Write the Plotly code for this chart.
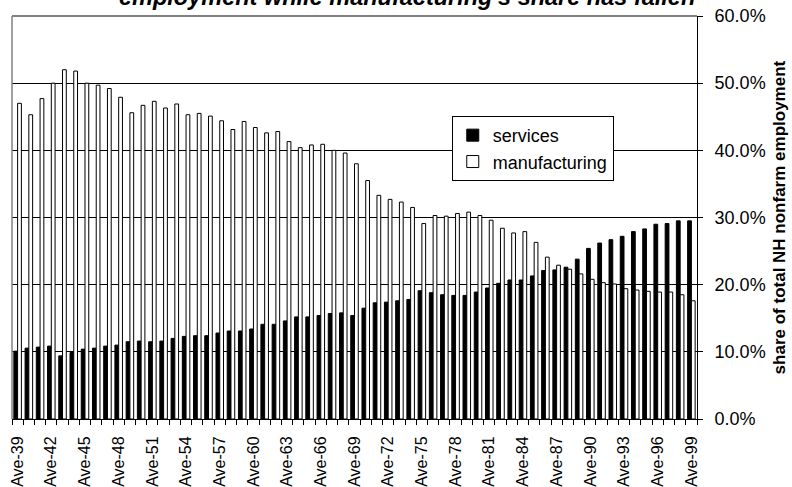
import plotly.graph_objects as go

years = [1939, 1940, 1941, 1942, 1943, 1944, 1945, 1946, 1947, 1948,
         1949, 1950, 1951, 1952, 1953, 1954, 1955, 1956, 1957, 1958,
         1959, 1960, 1961, 1962, 1963, 1964, 1965, 1966, 1967, 1968,
         1969, 1970, 1971, 1972, 1973, 1974, 1975, 1976, 1977, 1978,
         1979, 1980, 1981, 1982, 1983, 1984, 1985, 1986, 1987, 1988,
         1989, 1990, 1991, 1992, 1993, 1994, 1995, 1996, 1997, 1998,
         1999]

services = [10.1, 10.55, 10.7, 10.85, 9.4, 9.9, 10.4, 10.55, 10.85, 11.0,
            11.5, 11.6, 11.5, 11.6, 12.0, 12.3, 12.4, 12.4, 12.8, 13.1,
            13.1, 13.4, 14.1, 14.1, 14.6, 15.2, 15.2, 15.4, 15.7, 15.8,
            15.4, 16.5, 17.3, 17.4, 17.6, 17.8, 19.1, 18.8, 18.5, 18.4,
            18.4, 18.9, 19.5, 20.2, 20.7, 20.7, 21.3, 22.1, 22.2, 22.6,
            23.8, 25.4, 26.2, 26.7, 27.2, 27.9, 28.3, 29.0, 29.1, 29.5,
            29.5]

manufacturing = [47.0, 45.3, 47.7, 50.0, 52.0, 51.8, 50.0, 49.7, 49.2, 47.9,
                 45.6, 46.7, 47.3, 46.3, 46.9, 45.3, 45.5, 45.1, 44.4, 43.1,
                 44.3, 43.4, 42.6, 42.8, 41.3, 40.4, 40.8, 40.9, 40.0, 39.6,
                 38.0, 35.5, 33.3, 32.7, 32.3, 31.5, 29.1, 30.3, 30.2, 30.6,
                 30.8, 30.3, 29.6, 28.4, 27.7, 27.9, 26.3, 24.1, 22.9, 22.3,
                 21.6, 20.8, 20.3, 20.1, 19.4, 19.2, 19.0, 18.9, 18.9, 18.5,
                 17.6]

tick_years = [1939, 1942, 1945, 1948, 1951, 1954, 1957, 1960, 1963, 1966,
              1969, 1972, 1975, 1978, 1981, 1984, 1987, 1990, 1993, 1996, 1999]
tick_labels = ["Ave-39", "Ave-42", "Ave-45", "Ave-48", "Ave-51", "Ave-54",
               "Ave-57", "Ave-60", "Ave-63", "Ave-66", "Ave-69", "Ave-72",
               "Ave-75", "Ave-78", "Ave-81", "Ave-84", "Ave-87", "Ave-90",
               "Ave-93", "Ave-96", "Ave-99"]

y_ticks = [0, 10, 20, 30, 40, 50, 60]
y_tick_labels = ["0.0%", "10.0%", "20.0%", "30.0%", "40.0%", "50.0%", "60.0%"]

title_text = "employment while manufacturing's share has fallen"
y_title = "share of total NH nonfarm employment"

FONT = "Liberation Sans, Arial, sans-serif"

fig = go.Figure()
fig.add_trace(go.Bar(
    x=years, y=services, name="services",
    marker=dict(color="black", line=dict(color="black", width=1)),
))
fig.add_trace(go.Bar(
    x=years, y=manufacturing, name="manufacturing",
    marker=dict(color="white", line=dict(color="black", width=1)),
))

fig.update_layout(
    width=792, height=487,
    margin=dict(l=12, r=95, t=16, b=68, autoexpand=False),
    paper_bgcolor="white", plot_bgcolor="white",
    barmode="group", bargap=0.33, bargroupgap=0,
    font=dict(family=FONT, color="black"),
    showlegend=True,
    legend=dict(
        x=0.642, y=0.752, xanchor="left", yanchor="top",
        bordercolor="black", borderwidth=1, bgcolor="white",
        font=dict(size=18, family=FONT, color="black"),
        itemclick=False, tracegroupgap=0,
    ),
    xaxis=dict(
        range=[1938.5, 1999.5], automargin=False,
        tickmode="array", tickvals=tick_years, ticktext=tick_labels,
        tickangle=-90, ticks="", ticklabelstandoff=10,
        tickfont=dict(size=16, family=FONT, color="black"),
        showgrid=False, zeroline=False,
        showline=True, linecolor="black", linewidth=1,
        minor=dict(ticks="outside", ticklen=5, tickcolor="black",
                   tick0=1938.5, dtick=1, showgrid=False),
        fixedrange=True,
    ),
    yaxis=dict(
        side="right", range=[0, 60], automargin=False,
        tickmode="array", tickvals=y_ticks, ticktext=y_tick_labels,
        ticks="outside", ticklen=5, tickcolor="black",
        ticklabelstandoff=8,
        tickfont=dict(size=18, family=FONT, color="black"),
        showgrid=True, gridcolor="black", gridwidth=1,
        zeroline=False,
        showline=True, linecolor="black", linewidth=1,
        fixedrange=True,
    ),
    shapes=[
        dict(type="line", xref="paper", yref="paper", x0=0, x1=0, y0=0, y1=1,
             line=dict(color="#808080", width=1.5)),
        dict(type="line", xref="paper", yref="paper", x0=0, x1=1, y0=1, y1=1,
             line=dict(color="#808080", width=2)),
    ],
    annotations=[
        dict(text=title_text, xref="paper", yref="paper", x=0.576, y=1.047,
             xanchor="center", yanchor="middle", showarrow=False,
             font=dict(size=23.5, family=FONT, color="black",
                       weight="bold", style="italic")),
        dict(text=y_title, xref="paper", yref="paper", x=1.121, y=0.5,
             xanchor="center", yanchor="middle", textangle=-90, showarrow=False,
             font=dict(size=17, family=FONT, color="black", weight="bold")),
    ],
)

fig.write_html("out.html")
